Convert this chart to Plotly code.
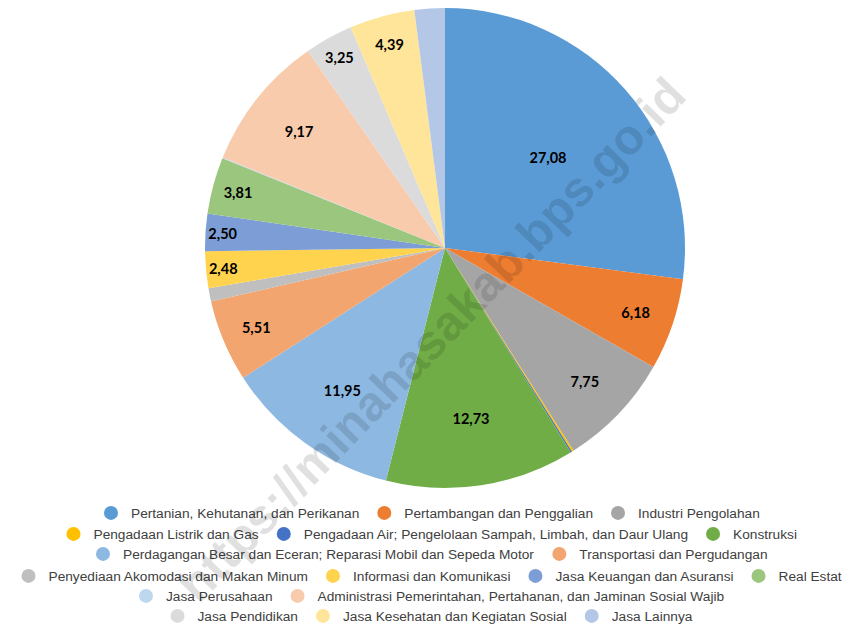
import plotly.graph_objects as go

categories = [
    "Pertanian, Kehutanan, dan Perikanan",
    "Pertambangan dan Penggalian",
    "Industri Pengolahan",
    "Pengadaan Listrik dan Gas",
    "Pengadaan Air; Pengelolaan Sampah, Limbah, dan Daur Ulang",
    "Konstruksi",
    "Perdagangan Besar dan Eceran; Reparasi Mobil dan Sepeda Motor",
    "Transportasi dan Pergudangan",
    "Penyediaan Akomodasi dan Makan Minum",
    "Informasi dan Komunikasi",
    "Jasa Keuangan dan Asuransi",
    "Real Estat",
    "Jasa Perusahaan",
    "Administrasi Pemerintahan, Pertahanan, dan Jaminan Sosial Wajib",
    "Jasa Pendidikan",
    "Jasa Kesehatan dan Kegiatan Sosial",
    "Jasa Lainnya",
]
values = [27.08, 6.18, 7.75, 0.12, 0.10, 12.73, 11.95, 5.51, 0.89,
          2.48, 2.50, 3.81, 0.05, 9.17, 3.25, 4.39, 2.04]
labelled = [True, True, True, False, False, True, True, True, False,
            True, True, True, False, True, True, True, False]
colors = ["#5B9BD5", "#ED7D31", "#A5A5A5", "#FFC000", "#4472C4", "#70AD47",
          "#8DB8E1", "#F2A56F", "#BFBFBF", "#FFD34D", "#7D9DD6", "#9BC67E",
          "#BDD7EE", "#F7CBAC", "#DBDBDB", "#FFE599", "#B4C7E7"]
legend_row = [1, 1, 1, 2, 2, 2, 3, 3, 4, 4, 4, 4, 5, 5, 6, 6, 6]
watermark = "https://minahasakab.bps.go.id"

W, H = 852, 627
OFF = 8  # page body margin
text = [f"{v:.2f}".replace(".", ",") if show else "" for v, show in zip(values, labelled)]

fig = go.Figure()
cx, cy, R = 445 - OFF, 240, 240
fig.add_trace(go.Pie(
    values=values, labels=categories, sort=False, direction="clockwise", rotation=0,
    marker=dict(colors=colors, line=dict(width=0)),
    text=text, textinfo="text", textposition="inside",
    insidetextorientation="horizontal",
    textfont=dict(family="Lato", size=14.5, color="black", weight="bold"),
    showlegend=False,
    domain=dict(x=[(cx - R) / W, (cx + R) / W], y=[1 - (cy + R) / H, 1.0]),
))

row_px = {1: 513, 2: 534, 3: 554, 4: 576, 5: 596, 6: 616}
for name, col, row in zip(categories, colors, legend_row):
    fig.add_trace(go.Scatter(
        x=[None], y=[None], mode="markers", name=name,
        marker=dict(color=col, size=14, symbol="circle"),
        legend="legend" if row == 1 else f"legend{row}",
        hoverinfo="skip",
    ))

legend_common = dict(orientation="h", xanchor="center", x=(428 - OFF) / W, yanchor="middle",
                     bgcolor="rgba(0,0,0,0)",
                     font=dict(family="Liberation Sans", size=13.7, color="#404040"),
                     itemclick=False, itemdoubleclick=False, tracegroupgap=0)
legends = {}
for r, px in row_px.items():
    key = "legend" if r == 1 else f"legend{r}"
    legends[key] = dict(legend_common, y=1 - (px - 8) / H)

fig.update_layout(
    width=W, height=H,
    margin=dict(l=0, r=0, t=0, b=0),
    paper_bgcolor="white", plot_bgcolor="white",
    xaxis=dict(visible=False), yaxis=dict(visible=False),
    uniformtext=dict(minsize=14.5, mode="show"),
    annotations=[dict(
        text=watermark, x=(431 - OFF) / W, y=1 - (340 - OFF) / H, xref="paper", yref="paper",
        showarrow=False, textangle=-46,
        font=dict(family="Liberation Sans", size=49, color="rgba(0,0,0,0.12)", weight="bold"),
    )],
    **legends,
)
fig.write_html("out.html")
